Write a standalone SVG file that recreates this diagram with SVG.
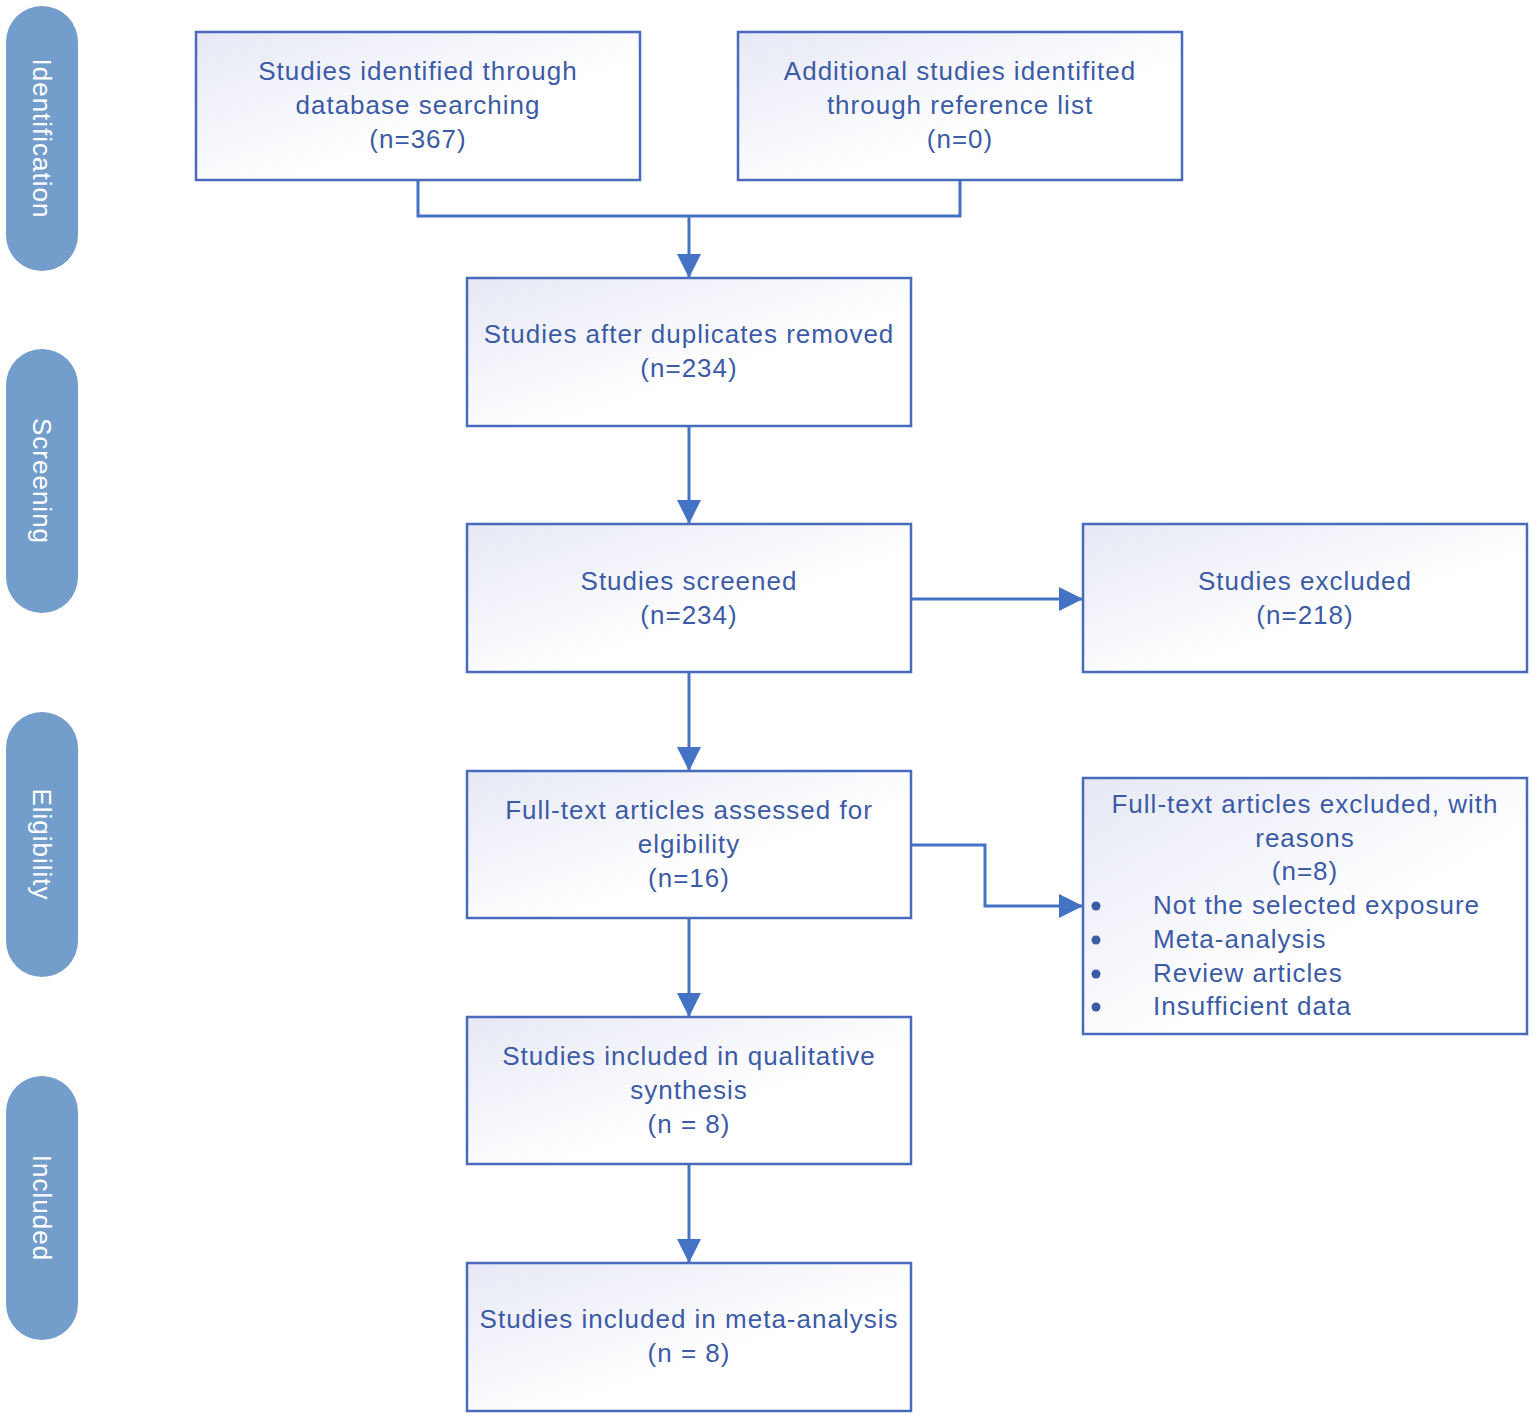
<svg xmlns="http://www.w3.org/2000/svg" width="1532" height="1418" viewBox="0 0 1532 1418">
<defs>
<linearGradient id="g" x1="0" y1="0" x2="1" y2="1">
<stop offset="0" stop-color="#e6e8f5"/>
<stop offset="0.6" stop-color="#ffffff"/>
<stop offset="1" stop-color="#ffffff"/>
</linearGradient>
<marker id="ah" viewBox="0 0 10 10" refX="10" refY="5" markerWidth="8" markerHeight="8" markerUnits="strokeWidth" orient="auto">
<path d="M0,0 L10,5 L0,10 Z" fill="#4472c4"/>
</marker>
<style>
.box{fill:url(#g);stroke:#4a6abb;stroke-width:2.5}
.pill{fill:#739dcb}
.t{font-family:"Liberation Sans",Arial,sans-serif;font-size:26px;letter-spacing:1px;fill:#3c5ba6;text-anchor:middle}
.tl{font-family:"Liberation Sans",Arial,sans-serif;font-size:26px;letter-spacing:1px;fill:#3c5ba6}
.side{font-family:"Liberation Sans",Arial,sans-serif;font-size:26px;letter-spacing:1px;fill:#ffffff;text-anchor:middle}
.c{fill:none;stroke:#4472c4;stroke-width:3}
</style>
</defs>
<rect width="1532" height="1418" fill="#ffffff"/>
<g id="stage-identification"><rect class="pill" x="6" y="6" width="72" height="265" rx="36"/><text class="side" transform="translate(42,138.5) rotate(90)" dy="9">Identification</text></g>
<g id="stage-screening"><rect class="pill" x="6" y="349" width="72" height="264" rx="36"/><text class="side" transform="translate(42,481) rotate(90)" dy="9">Screening</text></g>
<g id="stage-eligibility"><rect class="pill" x="6" y="712" width="72" height="265" rx="36"/><text class="side" transform="translate(42,844.5) rotate(90)" dy="9">Eligibility</text></g>
<g id="stage-included"><rect class="pill" x="6" y="1076" width="72" height="264" rx="36"/><text class="side" transform="translate(42,1208) rotate(90)" dy="9">Included</text></g>

<g id="connectors">
<polyline class="c" points="418,180 418,216 960,216 960,180"/>
<line class="c" x1="689" y1="216" x2="689" y2="278" marker-end="url(#ah)"/>
<line class="c" x1="689" y1="426" x2="689" y2="524" marker-end="url(#ah)"/>
<line class="c" x1="911" y1="599" x2="1083" y2="599" marker-end="url(#ah)"/>
<line class="c" x1="689" y1="672" x2="689" y2="771" marker-end="url(#ah)"/>
<polyline class="c" points="911,845 985,845 985,906 1083,906" marker-end="url(#ah)"/>
<line class="c" x1="689" y1="918" x2="689" y2="1017" marker-end="url(#ah)"/>
<line class="c" x1="689" y1="1164" x2="689" y2="1263" marker-end="url(#ah)"/>
</g>

<g id="n1"><rect class="box" x="196" y="32" width="444" height="148"/>
<text class="t" x="418" y="80">Studies identified through</text>
<text class="t" x="418" y="114">database searching</text>
<text class="t" x="418" y="148">(n=367)</text></g>
<g id="n2"><rect class="box" x="738" y="32" width="444" height="148"/>
<text class="t" x="960" y="80">Additional studies identifited</text>
<text class="t" x="960" y="114">through reference list</text>
<text class="t" x="960" y="148">(n=0)</text></g>
<g id="n3"><rect class="box" x="467" y="278" width="444" height="148"/>
<text class="t" x="689" y="343">Studies after duplicates removed</text>
<text class="t" x="689" y="377">(n=234)</text></g>
<g id="n4"><rect class="box" x="467" y="524" width="444" height="148"/>
<text class="t" x="689" y="590">Studies screened</text>
<text class="t" x="689" y="624">(n=234)</text></g>
<g id="n5"><rect class="box" x="1083" y="524" width="444" height="148"/>
<text class="t" x="1305" y="590">Studies excluded</text>
<text class="t" x="1305" y="624">(n=218)</text></g>
<g id="n6"><rect class="box" x="467" y="771" width="444" height="147"/>
<text class="t" x="689" y="819">Full-text articles assessed for</text>
<text class="t" x="689" y="853">elgibility</text>
<text class="t" x="689" y="887">(n=16)</text></g>
<g id="n7"><rect class="box" x="1083" y="778" width="444" height="256"/>
<text class="t" x="1305" y="813">Full-text articles excluded, with</text>
<text class="t" x="1305" y="847">reasons</text>
<text class="t" x="1305" y="880">(n=8)</text>
<circle cx="1096" cy="906" r="4.5" fill="#3c5ba6"/>
<circle cx="1096" cy="940" r="4.5" fill="#3c5ba6"/>
<circle cx="1096" cy="974" r="4.5" fill="#3c5ba6"/>
<circle cx="1096" cy="1007" r="4.5" fill="#3c5ba6"/>
<text class="tl" x="1153" y="914">Not the selected exposure</text>
<text class="tl" x="1153" y="948">Meta-analysis</text>
<text class="tl" x="1153" y="982">Review articles</text>
<text class="tl" x="1153" y="1015">Insufficient data</text></g>
<g id="n8"><rect class="box" x="467" y="1017" width="444" height="147"/>
<text class="t" x="689" y="1065">Studies included in qualitative</text>
<text class="t" x="689" y="1099">synthesis</text>
<text class="t" x="689" y="1133">(n = 8)</text></g>
<g id="n9"><rect class="box" x="467" y="1263" width="444" height="148"/>
<text class="t" x="689" y="1328">Studies included in meta-analysis</text>
<text class="t" x="689" y="1362">(n = 8)</text></g>
</svg>
